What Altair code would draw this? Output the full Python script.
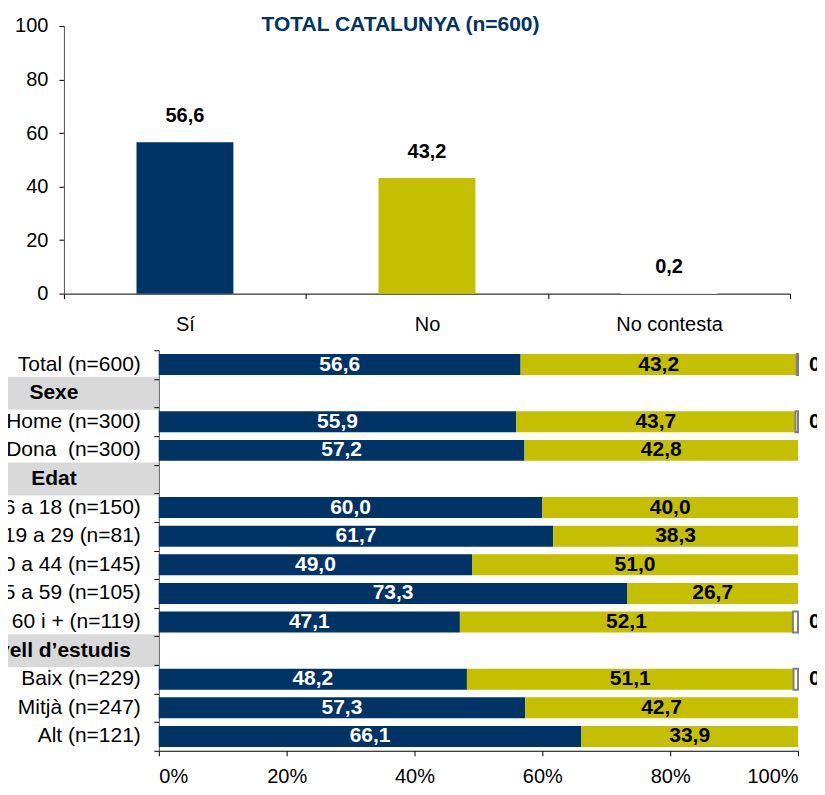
import altair as alt
import pandas as pd

FONT = "Liberation Sans, Arial, sans-serif"
NAVY = "#003366"
OLIVE = "#c4bf00"
BAND_GRAY = "#d9d9d9"
NC_STROKE = "#808080"

# ---------------- data ----------------
top_title = "TOTAL CATALUNYA (n=600)"
top_categories = ["Sí", "No", "No contesta"]
top_values = [56.6, 43.2, 0.2]
top_colors = [NAVY, OLIVE, "#ffffff"]
top_y_ticks = [0, 20, 40, 60, 80, 100]

rows = [
    "Total (n=600)", "Sexe", "Home (n=300)", "Dona\u00a0 (n=300)", "Edat",
    "De 16 a 18 (n=150)", "De 19 a 29 (n=81)", "De 30 a 44 (n=145)",
    "De 45 a 59 (n=105)", "De 60 i + (n=119)", "Nivell d\u2019estudis",
    "Baix (n=229)", "Mitjà (n=247)", "Alt (n=121)",
]
is_header = [False, True, False, False, True, False, False, False, False,
             False, True, False, False, False]
si_values = [56.6, None, 55.9, 57.2, None, 60.0, 61.7, 49.0, 73.3, 47.1, None, 48.2, 57.3, 66.1]
no_values = [43.2, None, 43.7, 42.8, None, 40.0, 38.3, 51.0, 26.7, 52.1, None, 51.1, 42.7, 33.9]
nc_values = [0.2, None, 0.4, 0.0, None, 0.0, 0.0, 0.0, 0.0, 0.8, None, 0.7, 0.0, 0.0]
x_ticks = [0, 20, 40, 60, 80, 100]


def fmt(v):
    return f"{v:.1f}".replace(".", ",")


# ---------------- top chart ----------------
top_df = pd.DataFrame({"cat": top_categories, "value": top_values,
                       "label": [fmt(v) for v in top_values]})

top_x = alt.X("cat:N", sort=top_categories,
              scale=alt.Scale(paddingInner=0, paddingOuter=0),
              axis=alt.Axis(title=None, labelAngle=0, labelFontSize=20, labelFont=FONT,
                            labelColor="black", labelPadding=16, tickBand="extent",
                            tickSize=5, tickColor="black", domainColor="black"))
top_y = alt.Y("value:Q", scale=alt.Scale(domain=[0, 100], nice=False),
              axis=alt.Axis(title=None, values=top_y_ticks, grid=False, tickSize=5,
                            tickColor="black", domainColor="#555555", labelPadding=11,
                            labelFontSize=20, labelFont=FONT, labelColor="black"))

top_bars = alt.Chart(top_df).mark_bar(size=97).encode(
    x=top_x, y=top_y,
    color=alt.Color("cat:N", scale=alt.Scale(domain=top_categories, range=top_colors), legend=None),
)
top_labels = alt.Chart(top_df).mark_text(
    dy=-20, baseline="alphabetic", fontSize=20, fontWeight="bold", font=FONT, color="black"
).encode(x=alt.X("cat:N", sort=top_categories), y="value:Q", text="label:N")
top_title_mark = alt.Chart(pd.DataFrame({"t": [top_title]})).mark_text(
    fontSize=21, fontWeight="bold", font=FONT, color=NAVY, baseline="middle", align="center"
).encode(x=alt.value(337), y=alt.value(-1), text="t:N")

top = alt.layer(top_bars, top_labels, top_title_mark).properties(width=727, height=268)

# ---------------- bottom chart ----------------
seg_records = []
for r, h, s, n, c in zip(rows, is_header, si_values, no_values, nc_values):
    if h:
        continue
    seg_records.append({"row": r, "ans": "Sí", "start": 0.0, "end": s, "mid": s / 2, "label": fmt(s)})
    seg_records.append({"row": r, "ans": "No", "start": s, "end": s + n, "mid": s + n / 2, "label": fmt(n)})
    if c > 0:
        seg_records.append({"row": r, "ans": "No contesta", "start": s + n, "end": 100.0,
                            "mid": 100.0, "label": fmt(c)})
seg_df = pd.DataFrame(seg_records)
main_df = seg_df[seg_df["ans"] != "No contesta"]
nc_df = seg_df[seg_df["ans"] == "No contesta"]

y_scale = alt.Scale(domain=rows, paddingInner=0, paddingOuter=0)
x_scale = alt.Scale(domain=[0, 100], nice=False)

bar_y = alt.Y("row:N", sort=rows, scale=y_scale,
              axis=alt.Axis(title=None, labels=False, tickBand="extent", tickSize=5,
                            tickColor="black", domainColor="#555555"))
bar_x = alt.X("start:Q", scale=x_scale,
              axis=alt.Axis(title=None, values=x_ticks, grid=False, labelExpr="datum.value + '%'",
                            tickSize=5, tickColor="black", domainColor="black", labelPadding=11,
                            labelFontSize=20, labelFont=FONT, labelColor="black"))

main_bars = alt.Chart(main_df).mark_bar(size=21).encode(
    x=bar_x, x2="end:Q", y=bar_y,
    color=alt.Color("ans:N", scale=alt.Scale(domain=["Sí", "No"], range=[NAVY, OLIVE]), legend=None),
)
nc_bars = alt.Chart(nc_df).mark_bar(size=21, fill="white", stroke=NC_STROKE, strokeWidth=2).encode(
    x=alt.X("start:Q"), x2="end:Q", y=alt.Y("row:N", sort=rows),
)
si_labels = alt.Chart(main_df[main_df["ans"] == "Sí"]).mark_text(
    fontSize=21, fontWeight="bold", font=FONT, color="white", baseline="middle"
).encode(x="mid:Q", y=alt.Y("row:N", sort=rows), text="label:N")
no_labels = alt.Chart(main_df[main_df["ans"] == "No"]).mark_text(
    fontSize=21, fontWeight="bold", font=FONT, color="black", baseline="middle"
).encode(x="mid:Q", y=alt.Y("row:N", sort=rows), text="label:N")
nc_labels = alt.Chart(nc_df).mark_text(
    fontSize=21, fontWeight="bold", font=FONT, color="black", baseline="middle", align="left", dx=11
).encode(x="mid:Q", y=alt.Y("row:N", sort=rows), text="label:N")

bars_panel = alt.layer(main_bars, nc_bars, si_labels, no_labels, nc_labels).properties(
    width=640, height=401)

# label panel
rows_df = pd.DataFrame({"row": rows, "header": is_header})
head_df = rows_df[rows_df["header"]]
item_df = rows_df[~rows_df["header"]]
lab_y = alt.Y("row:N", sort=rows, scale=y_scale, axis=None)

gray_bands = alt.Chart(head_df).mark_bar(size=33, color=BAND_GRAY).encode(
    x=alt.value(-123), x2=alt.value(94.7), y=lab_y)
item_text = alt.Chart(item_df).mark_text(
    align="right", baseline="middle", fontSize=21, font=FONT, color="black"
).encode(x=alt.value(77), y=lab_y, text="row:N")
head_text = alt.Chart(head_df).mark_text(
    align="center", baseline="middle", fontSize=21, fontWeight="bold", font=FONT, color="black"
).encode(x=alt.value(-10), y=lab_y, text="row:N")

label_panel = alt.layer(gray_bands, item_text, head_text).properties(width=94.7, height=401)

bottom = alt.hconcat(label_panel, bars_panel, spacing=0, bounds="flush")

chart = alt.vconcat(top, bottom, spacing=56.7, bounds="flush").properties(
    padding={"left": -67, "top": 5.5, "right": -22, "bottom": -3}
).configure_view(stroke=None)

chart.save("out.html", embed_options={"renderer": "svg", "actions": False})
